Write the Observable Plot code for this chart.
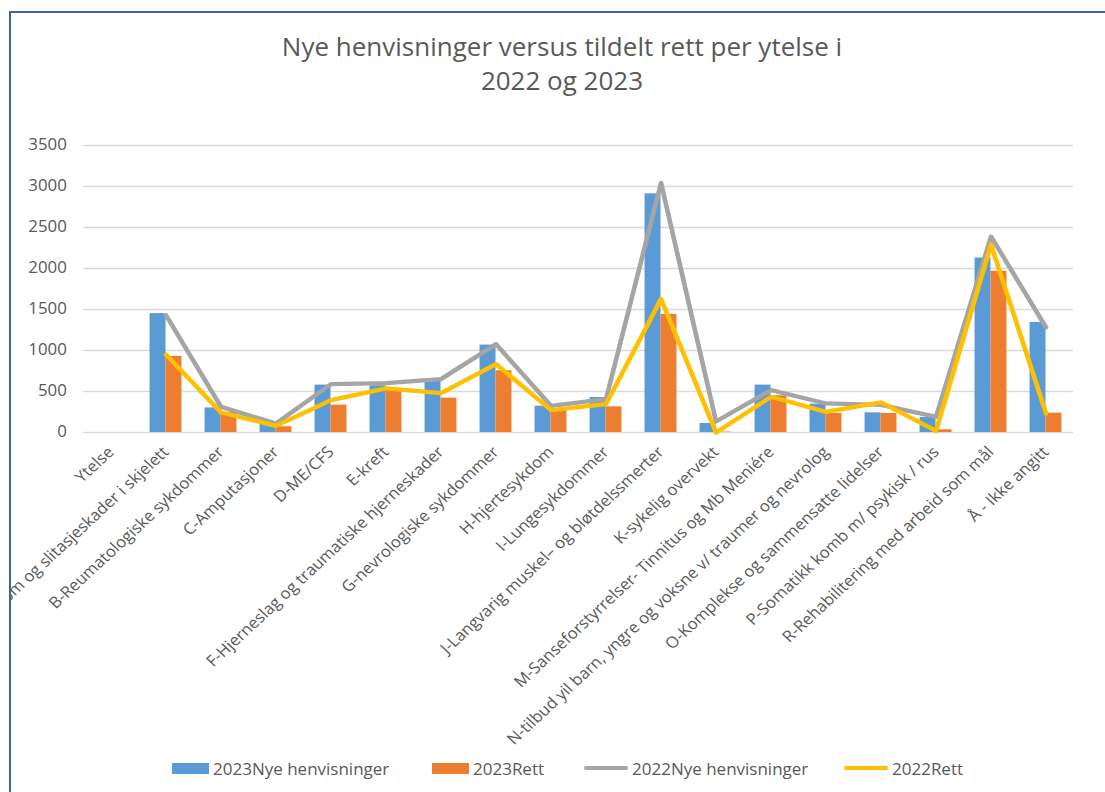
<!DOCTYPE html>
<html><head><meta charset="utf-8">
<script src="https://cdn.jsdelivr.net/npm/d3@7"></script>
<script src="https://cdn.jsdelivr.net/npm/@observablehq/plot@0.6"></script>
<style>
html,body{margin:0;padding:0;background:#fff;width:1105px;height:792px;overflow:hidden;font-family:"Open Sans",sans-serif;}
#frame{position:absolute;left:9px;top:11px;width:1200px;height:900px;border-left:2px solid #3f63a3;border-top:2px solid #3f63a3;pointer-events:none;}
#chart{position:absolute;left:11px;top:0;width:1094px;height:792px;overflow:hidden;}
#chart svg{transform:scaleX(1.08);transform-origin:0 0;}
#title{position:absolute;left:12px;top:29px;width:1100px;text-align:center;font-size:26px;line-height:34px;color:#595959;}
.leg{position:absolute;top:758px;height:20px;display:flex;align-items:center;font-size:17px;color:#595959;white-space:nowrap;}
.sw{display:inline-block;margin-right:4px;}
</style></head>
<body>
<div id="chart"></div>
<div id="title">Nye henvisninger versus tildelt rett per ytelse i<br>2022 og 2023</div>
<div id="legend"></div>
<div id="frame"></div>
<script>
const categories = [
  "Ytelse",
  "A-Sykdom og slitasjeskader i skjelett",
  "B-Reumatologiske sykdommer",
  "C-Amputasjoner",
  "D-ME/CFS",
  "E-kreft",
  "F-Hjerneslag og traumatiske hjerneskader",
  "G-nevrologiske sykdommer",
  "H-hjertesykdom",
  "I-Lungesykdommer",
  "J-Langvarig muskel– og bløtdelssmerter",
  "K-sykelig overvekt",
  "M-Sanseforstyrrelser- Tinnitus og Mb Meniére",
  "N-tilbud yil barn, yngre og voksne v/ traumer og nevrolog",
  "O-Komplekse og sammensatte lidelser",
  "P-Somatikk komb m/ psykisk / rus",
  "R-Rehabilitering med arbeid som mål",
  "Å - Ikke angitt"
];
const nye2023  = [null, 1450, 300, 100, 578, 570, 640, 1066, 321, 427, 2910, 110, 578, 346, 240, 183, 2128, 1343];
const rett2023 = [null,  928, 245,  70, 334, 517, 419,  753, 273, 313, 1441,   5, 448, 232, 232,  33, 1966,  236];
const nye2022  = [null, 1430, 313, 110, 590, 602, 651, 1078, 325, 407, 3044, 134, 517, 354, 338, 191, 2389, 1282];
const rett2022 = [null,  950, 244,  80, 395, 537, 480,  834, 273, 346, 1628,   0, 436, 252, 366,  20, 2291,  232];
const yTicks = [0, 500, 1000, 1500, 2000, 2500, 3000, 3500];
const seriesNames = ["2023Nye henvisninger", "2023Rett", "2022Nye henvisninger", "2022Rett"];
const seriesColors = ["#5B9BD5", "#ED7D31", "#A5A5A5", "#FFC000"];

const rows = categories.map((c, i) => ({cat: c, n23: nye2023[i], r23: rett2023[i], n22: nye2022[i], r22: rett2022[i]}));
const S = 1.08;                       // horizontal stretch of the reference picture
const W = Math.round(1094 / S);
const mL = 72 / S, mR = W - 1062 / S;
const step = (W - mL - mR) / categories.length;
const half = step * 0.58 / 2;

const chart = Plot.plot({
  width: W,
  height: 792,
  marginLeft: mL,
  marginRight: mR,
  marginTop: 145,
  marginBottom: 360,
  style: {fontFamily: "Open Sans", fontSize: "15.6px", color: "#595959", background: "transparent", overflow: "visible"},
  x: {domain: categories, paddingInner: 0.42, paddingOuter: 0.21, round: false, label: null},
  y: {domain: [0, 3500], label: null},
  marks: [
    Plot.ruleY(yTicks, {stroke: "#D9D9D9", strokeWidth: 1.5}),
    Plot.barY(rows.filter(d => d.n23 != null), {x: "cat", y: "n23", fill: seriesColors[0], insetRight: half, insetLeft: 0}),
    Plot.barY(rows.filter(d => d.r23 != null), {x: "cat", y: "r23", fill: seriesColors[1], insetLeft: half, insetRight: 0}),
    Plot.lineY(rows.filter(d => d.n22 != null), {x: "cat", y: "n22", stroke: seriesColors[2], strokeWidth: 4.3, strokeLinejoin: "round"}),
    Plot.lineY(rows.filter(d => d.r22 != null), {x: "cat", y: "r22", stroke: seriesColors[3], strokeWidth: 4.3, strokeLinejoin: "round"}),
    Plot.axisY({ticks: yTicks, tickSize: 0, tickPadding: 15.5, tickFormat: d => String(d), fontSize: 15.6, label: null}),
    Plot.axisX({tickSize: 0, tickPadding: 17, tickRotate: -45, fontSize: 15.6, label: null})
  ]
});
document.getElementById("chart").appendChild(chart);

const legendPos = [172, 432, 584, 844];
const legend = document.getElementById("legend");
seriesNames.forEach((name, i) => {
  const item = document.createElement("div");
  item.className = "leg";
  item.style.left = legendPos[i] + "px";
  const sw = document.createElement("span");
  sw.className = "sw";
  sw.style.background = seriesColors[i];
  if (i < 2) { sw.style.width = "37px"; sw.style.height = "11px"; }
  else { sw.style.width = "44px"; sw.style.height = "4px"; sw.style.borderRadius = "2px"; }
  item.appendChild(sw);
  const t = document.createElement("span");
  t.textContent = name;
  item.appendChild(t);
  legend.appendChild(item);
});
</script>
</body></html>
